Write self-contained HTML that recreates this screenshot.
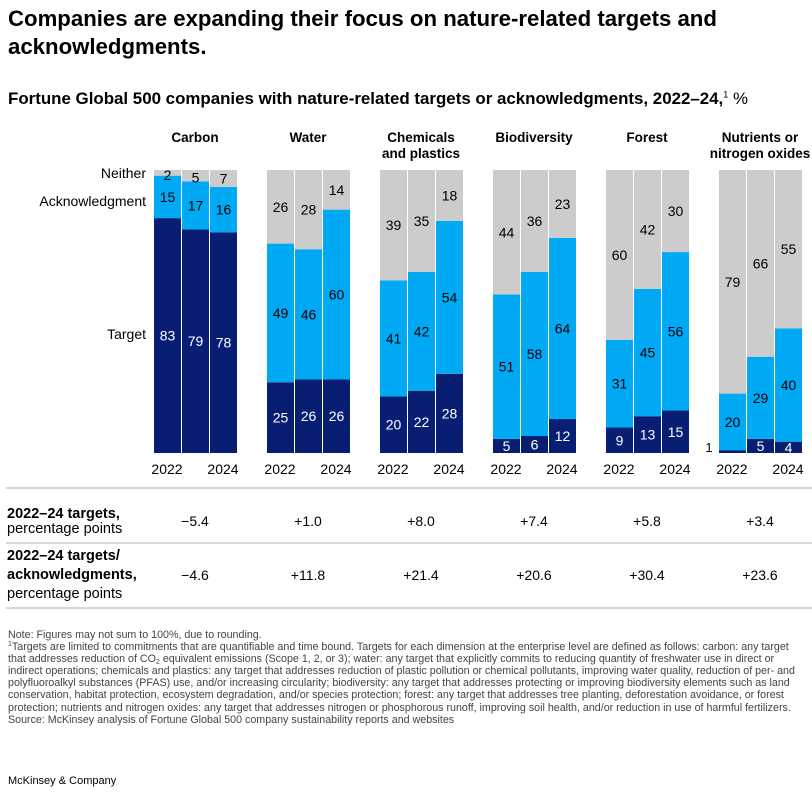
<!DOCTYPE html>
<html><head><meta charset="utf-8"><style>
body{margin:0;width:812px;height:792px;background:#fff;font-family:"Liberation Sans",sans-serif;color:#000;overflow:hidden;position:relative}
.t{position:absolute;left:8px;top:5px;font-size:22.2px;font-weight:bold;line-height:28px;width:800px}
.s{position:absolute;left:8px;top:89px;font-size:16.9px;font-weight:bold;white-space:nowrap}
.s span{font-weight:normal}
.n{position:absolute;left:8px;top:629px;font-size:10.7px;line-height:12.1px;color:#444;width:790px}
.n sup,.n sub{font-size:7px;line-height:0;position:relative;vertical-align:baseline}
.n sup{top:-4px}.n sub{top:2px}
.m{position:absolute;left:8px;top:775px;font-size:11px}
svg{position:absolute;left:0;top:0}
</style></head><body>
<div class="t">Companies are expanding their focus on nature-related targets and acknowledgments.</div>
<div class="s">Fortune Global 500 companies with nature-related targets or acknowledgments, 2022–24,<span><sup style="font-size:9px">1</sup> %</span></div>
<svg id="c" width="812" height="792"></svg>
<div class="n">Note: Figures may not sum to 100%, due to rounding.<br><sup>1</sup>Targets are limited to commitments that are quantifiable and time bound. Targets for each dimension at the enterprise level are defined as follows: carbon: any target that addresses reduction of CO<sub>2</sub> equivalent emissions (Scope 1, 2, or 3); water: any target that explicitly commits to reducing quantity of freshwater use in direct or indirect operations; chemicals and plastics: any target that addresses reduction of plastic pollution or chemical pollutants, improving water quality, reduction of per- and polyfluoroalkyl substances (PFAS) use, and/or increasing circularity; biodiversity: any target that addresses protecting or improving biodiversity elements such as land conservation, habitat protection, ecosystem degradation, and/or species protection; forest: any target that addresses tree planting, deforestation avoidance, or forest protection; nutrients and nitrogen oxides: any target that addresses nitrogen or phosphorous runoff, improving soil health, and/or reduction in use of harmful fertilizers.<br>Source: McKinsey analysis of Fortune Global 500 company sustainability reports and websites</div>
<div class="m">McKinsey &amp; Company</div>
<script>
const categories=["Carbon","Water","Chemicals|and plastics","Biodiversity","Forest","Nutrients or|nitrogen oxides"];
const targetVals=[[83,79,78],[25,26,26],[20,22,28],[5,6,12],[9,13,15],[1,5,4]];
const ackVals=[[15,17,16],[49,46,60],[41,42,54],[51,58,64],[31,45,56],[20,29,40]];
const neitherVals=[[2,5,7],[26,28,14],[39,35,18],[44,36,23],[60,42,30],[79,66,55]];
const targetsDelta=["−5.4","+1.0","+8.0","+7.4","+5.8","+3.4"];
const comboDelta=["−4.6","+11.8","+21.4","+20.6","+30.4","+23.6"];
const svg=document.getElementById('c');const NS='http://www.w3.org/2000/svg';
const base=453,H=283,x0=154,gs=113,bw=27,bs=28;
const y=v=>v/100*H;
function el(t,a,txt){const e=document.createElementNS(NS,t);for(const k in a)e.setAttribute(k,a[k]);if(txt!=null)e.textContent=txt;svg.appendChild(e);return e;}
function tx(x,yy,s,o){return el('text',Object.assign({x:x,y:yy,'font-size':14,'text-anchor':'middle','font-family':'Liberation Sans, sans-serif'},o||{}),s);}
categories.forEach((c,g)=>{
 const gx=x0+g*gs,cx=gx+41;
 const parts=c.split('|');
 parts.forEach((p,i)=>{const t=tx(cx,142+i*16,p,{'font-weight':'bold','font-size':13.5});});
 for(let i=0;i<3;i++){
  const bx=gx+i*bs;let cum=0;
  [[targetVals,'#071e73','#fff'],[ackVals,'#00a9f4','#000'],[neitherVals,'#cccccc','#000']].forEach(([arr,col,tc],si)=>{
   const v=arr[g][i];const h=si==2?Math.max(0,H-y(cum)):y(v);const top=base-y(cum)-h;
   const r=el('rect',{x:bx,y:top,width:bw,height:h,fill:col});
   
   let ly=top+h/2+5; if(si==2&&h<16) ly=top+h/2+7;
   if(v>=2){const t=tx(bx+bw/2,ly,String(v),{fill:tc});}
   else {const t=tx(bx-10,base-1,String(v),{'font-size':13});}
   cum+=v;
  });
 }
 tx(gx+13,474,'2022');tx(gx+69,474,'2024');
 const a=tx(cx,526,targetsDelta[g]);
 const b=tx(cx,580,comboDelta[g]);
});
[["Neither",178],["Acknowledgment",206],["Target",339]].forEach(([s,yy])=>{const t=tx(146,yy,s,{'text-anchor':'end'});});
[488,543,608].forEach(yy=>el('line',{x1:6,x2:812,y1:yy,y2:yy,stroke:'#ccc','stroke-width':1.5}));
[["2022–24 targets,",518,1],["percentage points",533,0],["2022–24 targets/",560,1],["acknowledgments,",579,1],["percentage points",598,0]].forEach(([s,yy,b])=>tx(7,yy,s,{'text-anchor':'start','font-weight':b?'bold':'normal','font-size':14.5}));
</script>
</body></html>
